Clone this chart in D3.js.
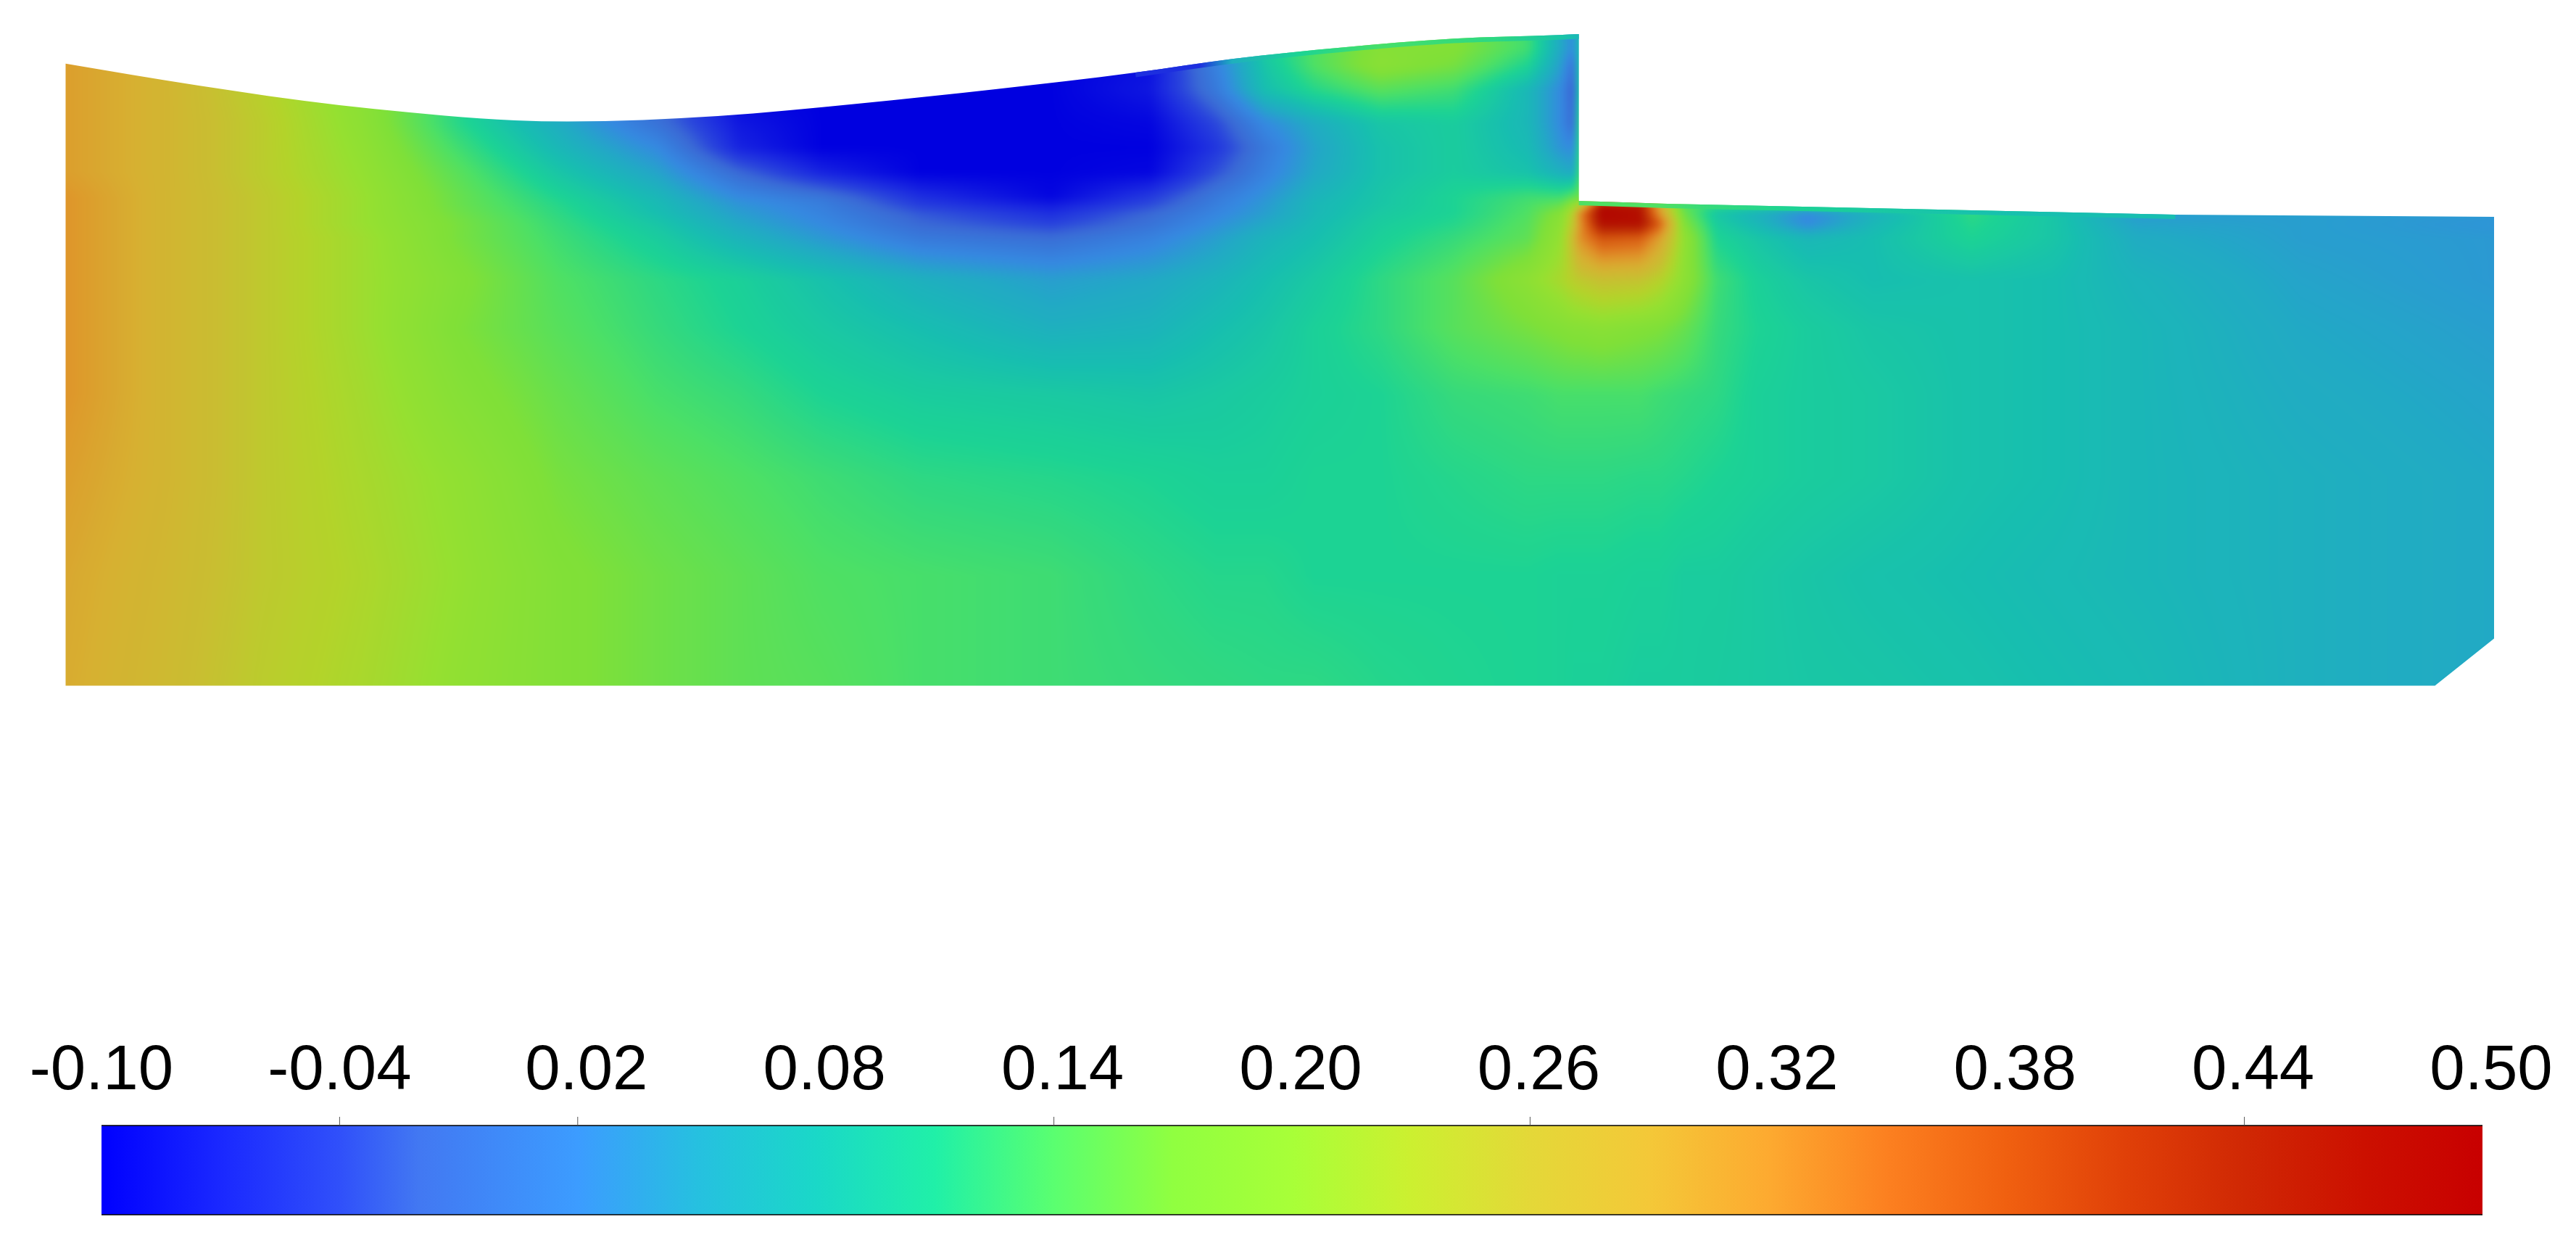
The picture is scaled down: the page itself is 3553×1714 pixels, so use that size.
<!DOCTYPE html>
<html><head><meta charset="utf-8">
<script src="https://cdn.jsdelivr.net/npm/d3@7/dist/d3.min.js"></script>
<style>html,body{margin:0;background:#fff}#c{position:absolute;left:0;top:0}svg{position:absolute;left:0;top:0}</style>
</head><body><canvas id="c" width="3553" height="1714"></canvas><svg id="s" width="3553" height="1714"></svg>
<script>
const colorDomain=[-0.10,-0.07,-0.04,-0.02,0.02,0.05,0.08,0.11,0.14,0.17,0.20,0.23,0.26,0.29,0.32,0.35,0.38,0.41,0.44,0.47,0.50];
const colorRange=["#0000ff","#1a28ff","#3050fa","#4278f2","#3c9cff","#26c0e0","#1ad8c8","#20f0a8","#5aff70","#90ff40","#a8ff38","#ccf030","#e4d838","#f4c838","#fdaa30","#fc8020","#f06010","#e04008","#d02804","#cc1000","#c80000"];
const fieldShade=0.88;
const labelValues=[-0.10,-0.04,0.02,0.08,0.14,0.20,0.26,0.32,0.38,0.44,0.50];
const tickValues=[-0.04,0.02,0.14,0.26,0.44];
const gridX=[0,6,12,18,24,30,36,41,46,52,60,66,70,73,76,80,84.5,89,91,91.8,92.1,93.5,95.8,97,98.5,100.5,103,106,110,116,121,126,136,147.8];
const gridZ=[39.7,38.7,37.7,36.2,34.2,32.7,31.2,29.7,29.3,28.7,28.1,27.2,24.7,21.7,17.7,12.7,6.7,0];
const field=[
[.31,.275,.235,.185,.115,.05,-.02,-.1,-.1,-.1,-.1,-.085,.0,.1,.14,.18,.175,.13,.05,.02,.08,.14,.14,.14,.14,.14,.14,.14,.14,.14,.14,.14,.14,.14],
[.31,.275,.235,.185,.115,.05,-.02,-.1,-.1,-.1,-.1,-.085,.0,.1,.14,.18,.175,.13,.05,.02,.08,.14,.14,.14,.14,.14,.14,.14,.14,.14,.14,.14,.14,.14],
[.31,.28,.235,.185,.115,.05,-.02,-.1,-.1,-.1,-.1,-.085,.01,.09,.14,.185,.165,.11,.04,-.01,.09,.14,.14,.14,.14,.14,.14,.14,.14,.14,.14,.14,.14,.14],
[.31,.28,.235,.185,.115,.05,-.02,-.1,-.1,-.1,-.1,-.08,.0,.08,.115,.145,.13,.07,.02,-.03,.1,.14,.14,.14,.14,.14,.14,.14,.14,.14,.14,.14,.14,.14],
[.31,.28,.24,.19,.115,.055,-.01,-.08,-.1,-.1,-.1,-.095,-.04,.02,.055,.09,.10,.07,.02,-.02,.12,.14,.14,.14,.14,.14,.14,.14,.14,.14,.14,.14,.14,.14],
[.31,.28,.24,.195,.13,.07,.02,-.07,-.1,-.1,-.1,-.1,-.055,.0,.045,.085,.10,.075,.03,.02,.12,.14,.14,.14,.14,.14,.14,.14,.14,.14,.14,.14,.14,.14],
[.31,.28,.24,.20,.145,.09,.045,-.02,-.07,-.1,-.1,-.095,-.035,.01,.05,.085,.10,.085,.06,.05,.13,.14,.14,.14,.14,.14,.14,.14,.14,.14,.14,.14,.14,.14],
[.32,.28,.245,.205,.155,.11,.07,.02,-.005,-.06,-.095,-.05,.0,.03,.065,.09,.11,.13,.13,.15,.16,.14,.14,.14,.14,.14,.14,.14,.14,.14,.14,.14,.14,.14],
[.32,.28,.245,.205,.155,.115,.075,.03,.005,-.05,-.08,-.04,.005,.035,.07,.09,.11,.135,.15,.19,.2,.46,.45,.3,.14,.13,.13,.13,.13,.13,.12,.1,.06,.05],
[.32,.28,.245,.205,.16,.12,.08,.04,.012,-.03,-.06,-.02,.015,.04,.07,.095,.11,.14,.18,.24,.32,.49,.47,.32,.16,.09,.06,.02,.06,.12,.09,.035,.04,.035],
[.32,.28,.245,.205,.165,.125,.09,.05,.02,-.02,-.045,-.01,.025,.05,.075,.10,.115,.145,.19,.25,.31,.47,.47,.37,.175,.10,.07,.02,.07,.115,.09,.045,.04,.03],
[.32,.28,.245,.21,.165,.13,.10,.065,.035,.0,-.015,.01,.04,.065,.08,.105,.125,.15,.20,.27,.32,.38,.37,.31,.195,.11,.09,.07,.08,.11,.09,.055,.04,.035],
[.32,.28,.245,.21,.175,.14,.12,.105,.085,.06,.04,.05,.065,.08,.095,.12,.145,.19,.22,.24,.245,.26,.255,.235,.19,.13,.105,.09,.08,.085,.08,.065,.045,.035],
[.32,.28,.245,.21,.17,.145,.125,.11,.095,.08,.06,.065,.08,.09,.105,.12,.145,.165,.175,.18,.18,.185,.175,.17,.155,.125,.11,.10,.09,.085,.08,.07,.05,.04],
[.32,.28,.245,.215,.18,.155,.135,.125,.11,.10,.095,.09,.095,.10,.105,.11,.125,.13,.135,.135,.135,.135,.135,.13,.125,.12,.105,.10,.095,.085,.08,.07,.055,.045],
[.31,.28,.245,.22,.195,.165,.15,.14,.13,.12,.115,.11,.105,.105,.11,.11,.115,.12,.12,.12,.12,.12,.118,.118,.115,.11,.105,.10,.095,.085,.08,.07,.06,.05],
[.30,.275,.245,.225,.20,.175,.16,.15,.14,.135,.13,.12,.115,.115,.11,.11,.11,.11,.108,.108,.108,.108,.105,.105,.10,.10,.095,.09,.085,.08,.075,.07,.06,.05],
[.295,.27,.24,.22,.195,.175,.16,.15,.145,.135,.13,.125,.122,.12,.12,.115,.112,.11,.108,.105,.105,.105,.10,.10,.10,.098,.095,.092,.09,.085,.08,.075,.06,.05]
];
const surfaceX=[0,8.1,16.66,20.94,25.2,27.34,30.56,39.7,48.2,56.6,65.1,71,77.8,84.5,90.9,92.1];
const surfaceZ=[37.8,36.47,35.28,34.84,34.48,34.36,34.29,34.62,35.37,36.25,37.26,38.09,38.8,39.33,39.55,39.6];
const edgeX=[92.1,97.5,128.4,147.8,147.8,144.2,0,0];
const edgeZ=[29.46,29.29,28.63,28.49,2.86,0,0,37.8];
// thin boundary layers along the free surfaces
const topSkinX=[69,71,75,80,87,91,92.1];
const topSkinV=[-.06,.06,.11,.135,.12,.09,.07];
const stepSkinX=[92.1,97,100,105,110,116,122];
const stepSkinV=[.14,.14,.125,.11,.095,.085,.08];

const W=3553,H=1714;
const x=d3.scaleLinear().domain([0,147.8]).range([90.5,3440]);
const z=d3.scaleLinear().domain([0,39.6]).range([945.5,47]);
const color=d3.scaleLinear().domain(colorDomain).range(colorRange).clamp(true);
const shaded=v=>{const c=d3.rgb(color(v));return d3.rgb(c.r*fieldShade,c.g*fieldShade,c.b*fieldShade);};

const LUT=2048, lut=new Uint8ClampedArray(LUT*3);
for(let i=0;i<LUT;i++){const c=shaded(-0.1+0.6*i/(LUT-1));lut[i*3]=c.r;lut[i*3+1]=c.g;lut[i*3+2]=c.b;}

const pad=30;
const x0=Math.floor(x(0))-pad,x1=Math.ceil(x(147.8))+pad,y0=Math.floor(z(39.7))-pad,y1=Math.ceil(z(0))+pad;
const w=x1-x0,h=y1-y0;
const off=document.createElement("canvas");off.width=w;off.height=h;
const octx=off.getContext("2d"),img=octx.createImageData(w,h);
const zAsc=gridZ.slice().reverse();
const bx=d3.bisector(d=>d).right;
const colI=new Int32Array(w),colT=new Float32Array(w);
for(let i=0;i<w;i++){const m=x.invert(x0+i+.5);let k=Math.min(gridX.length-2,Math.max(0,bx(gridX,m)-1));colI[i]=k;colT[i]=Math.min(1,Math.max(0,(m-gridX[k])/(gridX[k+1]-gridX[k])));}
for(let j=0;j<h;j++){
  const m=z.invert(y0+j+.5);
  let k=Math.min(zAsc.length-2,Math.max(0,bx(zAsc,m)-1));
  const t=Math.min(1,Math.max(0,(m-zAsc[k])/(zAsc[k+1]-zAsc[k])));
  const lo=field[gridZ.length-1-k],hi=field[gridZ.length-2-k];
  for(let i=0;i<w;i++){
    const a=colI[i],u=colT[i];
    const v=(lo[a]*(1-u)+lo[a+1]*u)*(1-t)+(hi[a]*(1-u)+hi[a+1]*u)*t;
    const q=Math.max(0,Math.min(LUT-1,Math.round((v+.1)/.6*(LUT-1))));
    const p=(j*w+i)*4;
    img.data[p]=lut[q*3];img.data[p+1]=lut[q*3+1];img.data[p+2]=lut[q*3+2];img.data[p+3]=255;
  }
}
octx.putImageData(img,0,0);
const px=d3.line().x(d=>x(d[0])).y(d=>z(d[1]));
const surf=d3.line().x(d=>x(d[0])).y(d=>z(d[1])).curve(d3.curveMonotoneX)(d3.zip(surfaceX,surfaceZ));
const edge=px(d3.zip(edgeX,edgeZ)).replace(/^M/,"L");
const ctx=document.getElementById("c").getContext("2d");
ctx.fillStyle="#fff";ctx.fillRect(0,0,W,H);
ctx.save();
ctx.clip(new Path2D(surf+edge+"Z"));
ctx.filter="blur(5px)";ctx.drawImage(off,x0,y0);ctx.filter="none";
const skin=(xs,vs,path,width)=>{
  const g=ctx.createLinearGradient(x(xs[0]),0,x(xs[xs.length-1]),0);
  const sx=d3.scaleLinear().domain([xs[0],xs[xs.length-1]]).range([0,1]);
  xs.forEach((d,i)=>g.addColorStop(sx(d),shaded(vs[i]).formatRgb()));
  ctx.strokeStyle=g;ctx.lineWidth=width;ctx.stroke(new Path2D(path));
};
const surfacePts=d3.zip(surfaceX,surfaceZ).filter(d=>d[0]>=65);
skin(topSkinX,topSkinV,d3.line().x(d=>x(d[0])).y(d=>z(d[1])).curve(d3.curveMonotoneX)(surfacePts),13);
skin(stepSkinX,stepSkinV,px(d3.zip(edgeX,edgeZ).slice(0,3)),12);
ctx.restore();

const svg=d3.select("#s");
const bar=d3.scaleLinear().domain([-0.10,0.50]).range([140,3424]);
const grad=svg.append("defs").append("linearGradient").attr("id","cb").attr("x1","0").attr("x2","1").attr("y1","0").attr("y2","0");
grad.selectAll("stop").data(colorDomain).join("stop").attr("offset",d=>(d+0.10)/0.60).attr("stop-color",d=>color(d));
svg.append("rect").attr("x",bar(-0.10)).attr("y",1552).attr("width",bar(0.50)-bar(-0.10)).attr("height",123).attr("fill","url(#cb)");
svg.append("g").selectAll("line").data([1552,1675]).join("line").attr("x1",bar(-0.10)).attr("x2",bar(0.50)).attr("y1",d=>d).attr("y2",d=>d).attr("stroke","#000").attr("stroke-width",1.5);
svg.append("g").selectAll("line").data(tickValues).join("line").attr("x1",d=>bar(d)).attr("x2",d=>bar(d)).attr("y1",1540).attr("y2",1552).attr("stroke","#555").attr("stroke-width",1);
svg.append("g").selectAll("text").data(labelValues).join("text")
 .attr("x",d=>bar(d)+(d>=0?12:0)).attr("y",1502).attr("text-anchor","middle")
 .attr("font-family","'Liberation Sans',Arial,sans-serif").attr("font-size",87).attr("fill","#000")
 .text(d=>d.toFixed(2));
</script></body></html>
